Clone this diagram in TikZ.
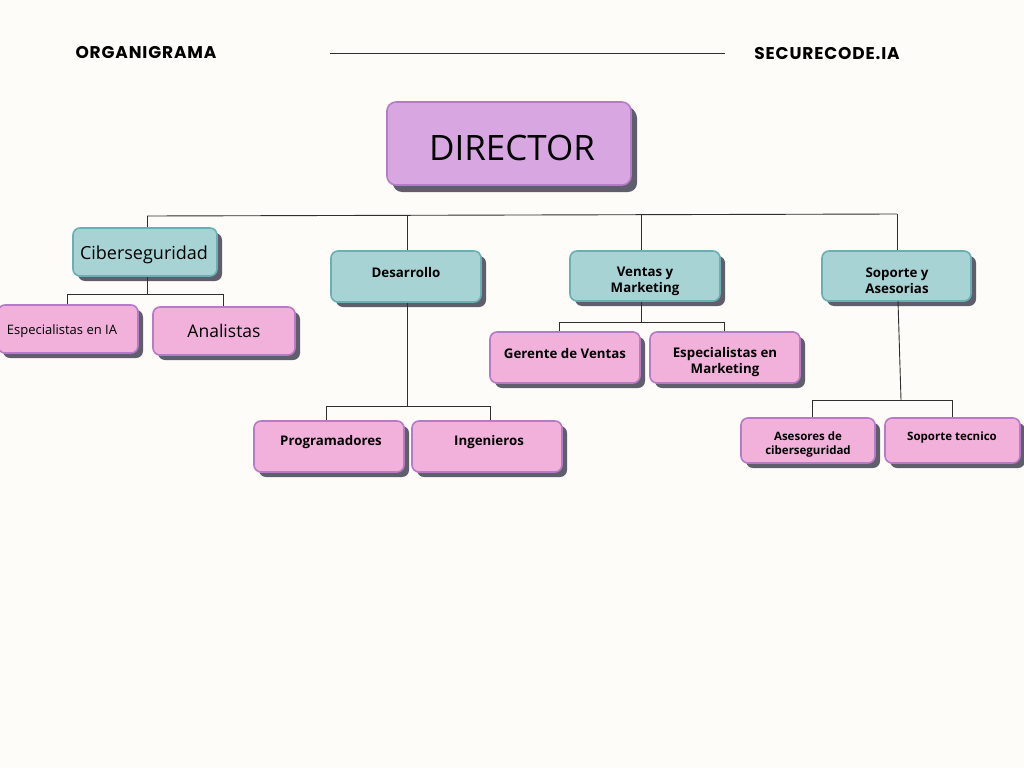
\documentclass[tikz,border=0pt]{standalone}
\usepackage{fontspec}
\setmainfont{Open Sans}
\newfontfamily\headfont{Poppins}[LetterSpace=5]
\usetikzlibrary{shadows}
\definecolor{bgc}{HTML}{FDFCF8}
\definecolor{dirfill}{HTML}{D8A7E2}
\definecolor{dirline}{HTML}{B47CC6}
\definecolor{tealfill}{HTML}{A8D3D5}
\definecolor{tealline}{HTML}{6AAFB3}
\definecolor{pinkfill}{HTML}{F2B1DB}
\definecolor{pinkline}{HTML}{B77AC6}
\definecolor{shadowc}{HTML}{5F5E6C}
\definecolor{linec}{HTML}{2E2E2E}
\tikzset{
  boxbase/.style={rectangle, rounded corners=7pt, line width=1.6pt, inner sep=0pt,
    drop shadow={shadow xshift=5pt, shadow yshift=-5pt, opacity=1, fill=shadowc}},
  dirbox/.style={boxbase, fill=dirfill, draw=dirline, rounded corners=9pt,
    drop shadow={shadow xshift=6pt, shadow yshift=-7pt, opacity=1, fill=shadowc}},
  tealbox/.style={boxbase, fill=tealfill, draw=tealline},
  pinkbox/.style={boxbase, fill=pinkfill, draw=pinkline},
  lbl/.style={inner sep=0pt, align=center, font=\bfseries\fontsize{13.3}{16}\selectfont},
  slbl/.style={inner sep=0pt, align=center, font=\bfseries\fontsize{11.5}{14}\selectfont},
  conn/.style={draw=linec, line width=0.9pt},
  head/.style={inner sep=0pt, font=\headfont\bfseries\fontsize{17}{19}\selectfont}
}
\begin{document}
\begin{tikzpicture}[x=1pt,y=-1pt]
\path[use as bounding box, fill=bgc] (0,0) rectangle (1024,768);

% header
\node[head] (hl) at (146,53) {ORGANIGRAMA};
\node[head] (hr) at (827,54) {SECURECODE.IA};
\coordinate (h1) at (330,53);
\coordinate (h2) at (725,53);
\draw[conn] (h1) -- (h2);

% bus coordinates
\coordinate (b1) at (147,216);
\coordinate (b2) at (407,215.5);
\coordinate (b3) at (641,215);
\coordinate (b4) at (897,214);

% boxes
\node[dirbox, minimum width=244pt, minimum height=83pt] (dir) at (509,143.5) {};
\node[inner sep=0pt, font=\fontsize{35}{40}\selectfont] (dirt) at (512,148) {DIRECTOR};

\node[tealbox, minimum width=144pt, minimum height=48pt] (cib) at (145,252) {};
\node[inner sep=0pt, font=\fontsize{18}{20}\selectfont] (cibt) at (144,254.5) {Ciberseguridad};

\node[tealbox, minimum width=150pt, minimum height=51pt] (des) at (406,276.5) {};
\node[lbl] (dest) at (406,272.5) {Desarrollo};

\node[tealbox, minimum width=150pt, minimum height=50pt] (ven) at (645,276) {};
\node[lbl] (vent) at (645,281) {Ventas y\\Marketing};

\node[tealbox, minimum width=149pt, minimum height=50pt] (sop) at (896.5,276) {};
\node[lbl] (sopt) at (897,280.5) {Soporte y\\Asesorias};

\node[pinkbox, minimum width=140pt, minimum height=48pt] (esp) at (68,329) {};
\node[inner sep=0pt, font=\fontsize{13}{15}\selectfont] (espt) at (62,331) {Especialistas en IA};

\node[pinkbox, minimum width=142pt, minimum height=48pt] (ana) at (224,331) {};
\node[inner sep=0pt, font=\fontsize{17.5}{20}\selectfont] (anat) at (224,330.5) {Analistas};

\node[pinkbox, minimum width=150pt, minimum height=51pt] (ger) at (565,357.5) {};
\node[lbl] (gert) at (565,353.5) {Gerente de Ventas};

\node[pinkbox, minimum width=150pt, minimum height=51pt] (espm) at (725,357.5) {};
\node[lbl] (espmt) at (725,362) {Especialistas en\\Marketing};

\node[pinkbox, minimum width=150pt, minimum height=51pt] (pro) at (329,446.5) {};
\node[lbl] (prot) at (331,442.5) {Programadores};

\node[pinkbox, minimum width=150pt, minimum height=51pt] (ing) at (487,446.5) {};
\node[lbl] (ingt) at (489,442.5) {Ingenieros};

\node[pinkbox, minimum width=134pt, minimum height=45pt] (ase) at (808,440.5) {};
\node[slbl] (aset) at (808,444.5) {Asesores de\\ciberseguridad};

\node[pinkbox, minimum width=135pt, minimum height=45pt] (sot) at (952.5,440.5) {};
\node[slbl] (sott) at (952,437.5) {Soporte tecnico};

% main bus
\draw[conn] (b1) -- (b4);
\draw[conn] (b1) -- (b1 |- cib.north);
\draw[conn] (b2) -- (b2 |- des.north);
\draw[conn] (b3) -- (b3 |- ven.north);
\draw[conn] (b4) -- (b4 |- sop.north);

% Ciberseguridad group
\coordinate (c0) at (147,294);
\coordinate (cL) at (67,294);
\coordinate (cR) at (223,294);
\draw[conn] (c0 |- cib.south) -- (c0);
\draw[conn] (cL |- esp.north) -- (cL) -- (cR) -- (cR |- ana.north);

% Desarrollo group
\coordinate (d0) at (407,406);
\coordinate (dL) at (326,406);
\coordinate (dR) at (490,406);
\draw[conn] (d0 |- des.south) -- (d0);
\draw[conn] (dL |- pro.north) -- (dL) -- (dR) -- (dR |- ing.north);

% Ventas group
\coordinate (v0) at (641,322);
\coordinate (vL) at (559,322);
\coordinate (vR) at (724,322);
\draw[conn] (v0 |- ven.south) -- (v0);
\draw[conn] (vL |- ger.north) -- (vL) -- (vR) -- (vR |- espm.north);

% Soporte group
\coordinate (s0) at (901,400);
\coordinate (sL) at (812,400);
\coordinate (sR) at (952,400);
\coordinate (sTop) at (898,301);
\draw[conn] (sTop) -- (s0);
\draw[conn] (sL |- ase.north) -- (sL) -- (sR) -- (sR |- sot.north);
\end{tikzpicture}
\end{document}
